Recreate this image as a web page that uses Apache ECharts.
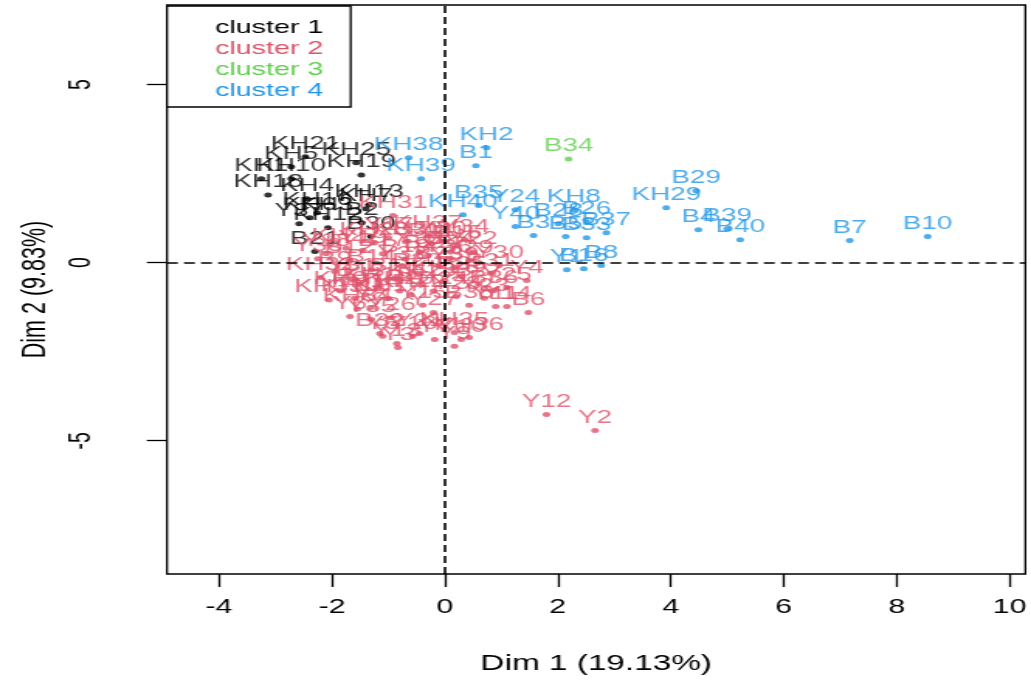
<!DOCTYPE html>
<html>
<head>
<meta charset="utf-8">
<title>Cluster map</title>
<script src="https://cdn.jsdelivr.net/npm/echarts@6/dist/echarts.min.js"></script>
<style>
  html, body { margin: 0; padding: 0; background: #fff; overflow: hidden; }
  /* the reference picture is stretched sideways, so the chart is drawn narrow and widened */
  #main { width: 665px; height: 680px; transform: scaleX(1.5504); transform-origin: 0 0; }
</style>
</head>
<body>
<div id="main"></div>
<script>
// [name, Dim 1, Dim 2]
var cluster1 = [
  ['KH21', -2.47, 2.97], ['KH5', -2.72, 2.69], ['KH1', -3.25, 2.35], ['KH10', -2.72, 2.35],
  ['KH25', -1.57, 2.80], ['KH19', -1.48, 2.46], ['KH18', -3.13, 1.90], ['KH4', -2.44, 1.79],
  ['KH13', -1.34, 1.62], ['KH16', -2.26, 1.40], ['KH6', -2.39, 1.26], ['KH3', -2.10, 1.26],
  ['Y37', -2.58, 1.09], ['KH7', -1.40, 1.51], ['B2', -1.47, 1.12], ['B30', -1.31, 0.73],
  ['B21', -2.30, 0.31], ['KH12', -2.07, 0.98]
];
var cluster2 = [
  ['KH31', -0.92, 1.32], ['B11', -0.24, 0.53], ['B15', 0.22, 0.48], ['Y29', 0.43, 0.06],
  ['Y30', 0.96, -0.08], ['Y39', 0.17, -0.14], ['Y4', 1.45, -0.50], ['Y38', -2.25, 0.11],
  ['KH32', -2.20, -0.42], ['B6', 1.48, -1.40], ['B32', -1.15, -1.99], ['Y13', -0.85, -2.27],
  ['KH35', 0.17, -1.96], ['KH36', 0.43, -2.10], ['Y21', -0.45, -1.99], ['Y12', 1.80, -4.26],
  ['Y2', 2.66, -4.71], ['B36', 0.87, -0.78], ['B38', 0.43, -1.20], ['Y8', -1.32, -1.26],
  ['Y3', -0.83, -2.38], ['Y5', -1.10, -2.07], ['Y6', -1.68, -1.51], ['Y7', -0.18, -2.16],
  ['Y9', 0.17, -2.35], ['Y10', 0.29, -2.16], ['Y11', 0.90, -1.23], ['Y14', 1.10, -1.23],
  ['Y15', -0.39, -1.20], ['Y16', -0.57, -2.07], ['B9', -1.95, -0.25], ['B12', -1.70, 0.05],
  ['B13', -1.50, -0.60], ['B14', -1.30, -0.20], ['B17', -1.10, 0.25], ['B18', -0.90, -0.45],
  ['B19', -0.70, 0.10], ['B20', -0.50, -0.30], ['B22', -0.30, 0.20], ['B23', -0.10, -0.10],
  ['B24', 0.10, 0.30], ['B25', 0.30, -0.40], ['B27', 0.60, -0.60], ['B31', 0.80, -0.30],
  ['KH9', -1.85, -0.80], ['KH11', -1.60, -1.00], ['KH14', -1.40, -0.90], ['KH15', -1.20, -0.70],
  ['KH17', -1.00, -1.00], ['KH20', -0.80, -0.80], ['KH22', -0.60, -0.90], ['KH23', -0.40, -0.60],
  ['KH24', -0.20, -0.80], ['KH26', 0.00, -0.50], ['KH27', -1.75, 0.40], ['KH28', -1.25, 0.55],
  ['KH30', -0.65, 0.60], ['KH33', -2.05, -1.05], ['KH34', -1.55, -1.30], ['KH37', -0.30, 0.75],
  ['Y17', -1.00, 0.70], ['Y18', -2.10, 0.25], ['Y19', -1.45, 0.35], ['Y20', -0.05, 0.60],
  ['Y22', 0.50, 0.30], ['Y23', 0.70, -1.00], ['Y25', 1.10, -0.70], ['Y26', -0.95, -1.55],
  ['Y27', -0.20, -1.40], ['Y28', 0.20, -0.95], ['Y31', -1.65, -0.45], ['Y32', -0.75, -0.10],
  ['Y33', -0.45, 0.30], ['Y34', 0.35, 0.65], ['Y35', -1.30, -1.60], ['Y36', 0.05, 0.10]
];
var cluster3 = [
  ['B34', 2.19, 2.91]
];
var cluster4 = [
  ['KH38', -0.64, 2.94], ['KH39', -0.42, 2.35], ['KH2', 0.74, 3.22], ['B1', 0.55, 2.72],
  ['KH40', 0.32, 1.34], ['B35', 0.60, 1.60], ['Y24', 1.25, 1.48], ['Y40', 1.25, 1.01],
  ['B3', 1.57, 0.76], ['B5', 2.14, 0.73], ['B33', 2.51, 0.70], ['B37', 2.86, 0.84],
  ['KH8', 2.28, 1.48], ['B26', 2.51, 1.15], ['B28', 2.01, 1.09], ['Y1', 2.16, -0.20],
  ['B16', 2.46, -0.17], ['B8', 2.77, -0.08], ['KH29', 3.92, 1.54], ['B29', 4.45, 2.02],
  ['B4', 4.49, 0.92], ['B39', 5.00, 0.95], ['B40', 5.23, 0.64], ['B7', 7.17, 0.62],
  ['B10', 8.55, 0.73]
];
var clusterNames = ['cluster 1', 'cluster 2', 'cluster 3', 'cluster 4'];
var clusterColors = ['#000000', '#DF536B', '#61D04F', '#2297E6'];
var xTicks = [-4, -2, 0, 2, 4, 6, 8, 10];
var yTicks = [-5, 0, 5];

var FONT = 'Liberation Sans';
var myChart = echarts.init(document.getElementById('main'));

function makeSeries(rows, i) {
  return {
    name: clusterNames[i],
    type: 'scatter',
    symbol: 'circle',
    symbolSize: 5,
    itemStyle: { color: clusterColors[i] },
    label: {
      show: true, position: 'top', distance: 1, formatter: '{b}',
      color: clusterColors[i], fontSize: 18, fontFamily: FONT
    },
    emphasis: { disabled: true },
    data: rows.map(function (r) { return { name: r[0], value: [r[1], r[2]] }; })
  };
}

var series = [cluster1, cluster2, cluster3, cluster4].map(makeSeries);
// dashed lines through the origin
series[0].markLine = {
  silent: true,
  symbol: ['none', 'none'],
  label: { show: false },
  lineStyle: { color: '#000', type: [7, 4], width: 1.6 },
  data: [{ xAxis: 0 }, { yAxis: 0 }]
};

// legend box drawn like R's legend()
var legendItems = clusterNames.map(function (n, i) {
  return {
    type: 'text', x: 138.7, y: 28 + i * 21, z: 101,
    style: { text: n, fill: clusterColors[i], fontSize: 18.5, fontFamily: FONT, verticalAlign: 'middle' }
  };
});

var option = {
  backgroundColor: '#fff',
  animation: false,
  grid: {
    left: 107.7, right: 1, top: 5, bottom: 105,
    show: true, borderColor: '#000', borderWidth: 1.3, backgroundColor: 'transparent'
  },
  xAxis: {
    type: 'value', min: -4.92, max: 10.28,
    name: 'Dim 1 (19.13%)', nameLocation: 'middle', nameGap: 79,
    nameTextStyle: { color: '#000', fontSize: 21.5, fontFamily: FONT },
    axisLine: { show: false, onZero: false },
    splitLine: { show: false },
    axisTick: { show: true, inside: false, length: 13, lineStyle: { color: '#000', width: 1.3 }, customValues: xTicks },
    axisLabel: { customValues: xTicks, margin: 24, color: '#000', fontSize: 19.5, fontFamily: FONT }
  },
  yAxis: {
    type: 'value', min: -8.74, max: 7.23,
    name: 'Dim 2 (9.83%)', nameLocation: 'middle', nameGap: 74,
    nameTextStyle: { color: '#000', fontSize: 21.5, fontFamily: FONT },
    axisLine: { show: false, onZero: false },
    splitLine: { show: false },
    axisTick: { show: true, inside: false, length: 13, lineStyle: { color: '#000', width: 1.3 }, customValues: yTicks },
    axisLabel: { customValues: yTicks, rotate: 90, margin: 45, color: '#000', fontSize: 19.5, fontFamily: FONT }
  },
  graphic: [
    {
      type: 'rect', z: 100,
      shape: { x: 107.7, y: 6, width: 118.5, height: 101 },
      style: { fill: '#fff', stroke: '#000', lineWidth: 1.3 }
    }
  ].concat(legendItems),
  series: series
};

myChart.setOption(option);
</script>
</body>
</html>
